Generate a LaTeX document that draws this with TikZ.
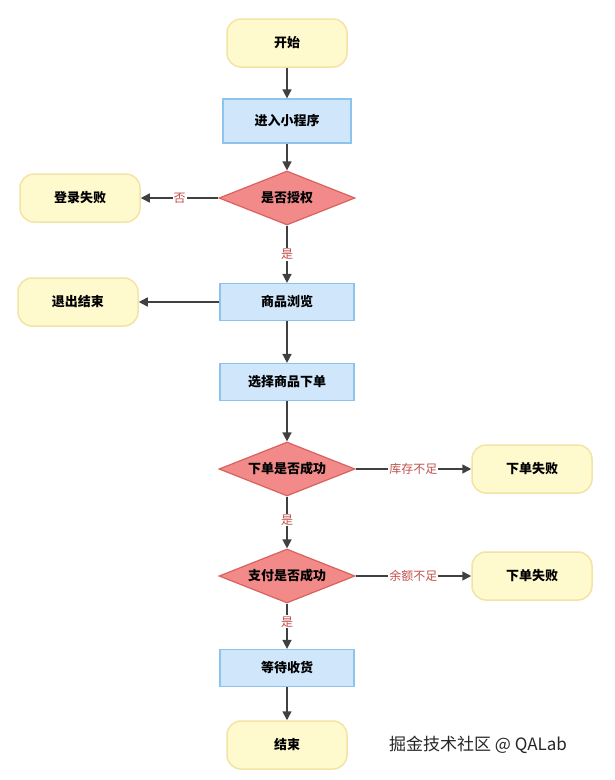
\documentclass[tikz,border=0pt]{standalone}
\usepackage{fontspec}
\newfontfamily\cjk{Noto Sans CJK SC}
\usetikzlibrary{shapes.geometric,arrows.meta}
\definecolor{yfill}{HTML}{FFFACD}
\definecolor{ydraw}{HTML}{F3E3A6}
\definecolor{bfill}{HTML}{CFE6FB}
\definecolor{bdraw}{HTML}{8CC4EE}
\definecolor{rfill}{HTML}{F28A8A}
\definecolor{rdraw}{HTML}{D9625F}
\definecolor{lab}{HTML}{C0504D}
\definecolor{arr}{HTML}{404040}
\begin{document}
\begin{tikzpicture}[x=1pt,y=-1pt,
  font=\cjk\bfseries\fontsize{13}{15}\selectfont,
  term/.style={draw=ydraw,line width=1.5pt,fill=yfill,rounded corners=14pt,minimum width=120pt,minimum height=48pt},
  proc/.style={draw=bdraw,line width=1.2pt,fill=bfill,minimum width=134pt,minimum height=37pt},
  dec/.style={diamond,draw=rdraw,line width=1.2pt,fill=rfill,minimum width=136pt,minimum height=54pt,aspect=2.6,inner sep=0pt},
  ar/.style={draw=arr,line width=1.6pt,-{Triangle[length=9pt,width=9pt]}},
  lb/.style={fill=white,text=lab,font=\cjk\fontsize{12}{14}\selectfont,inner sep=1pt}]
\useasboundingbox (0,0) rectangle (615,780);
\node[term] (start) at (287,43) {开始};
\node[proc,minimum width=128pt,minimum height=44pt] (enter) at (287,121) {进入小程序};
\node[dec] (auth) at (287,198) {是否授权};
\node[term] (fail1) at (80,198) {登录失败};
\node[proc] (browse) at (287,302) {商品浏览};
\node[term] (exit) at (78,302) {退出结束};
\node[proc] (select) at (287,382) {选择商品下单};
\node[dec] (order) at (287,469) {下单是否成功};
\node[term] (fail2) at (532,469) {下单失败};
\node[dec] (pay) at (287,576) {支付是否成功};
\node[term] (fail3) at (532,576) {下单失败};
\node[proc] (wait) at (287,668) {等待收货};
\node[term] (end) at (287,745) {结束};
\node[font=\cjk\fontsize{17}{20}\selectfont,text=black!85] (wm) at (478,745) {掘金技术社区 @ QALab};
\draw[ar] (start) -- (enter);
\draw[ar] (enter) -- (auth);
\draw[ar] (auth) -- node[lb]{否} (fail1);
\draw[ar] (auth) -- node[lb]{是} (browse);
\draw[ar] (browse) -- (exit);
\draw[ar] (browse) -- (select);
\draw[ar] (select) -- (order);
\draw[ar] (order) -- node[lb]{库存不足} (fail2);
\draw[ar] (order) -- node[lb,pos=0.45]{是} (pay);
\draw[ar] (pay) -- node[lb]{余额不足} (fail3);
\draw[ar] (pay) -- node[lb,pos=0.4]{是} (wait);
\draw[ar] (wait) -- (end);
\end{tikzpicture}
\end{document}
